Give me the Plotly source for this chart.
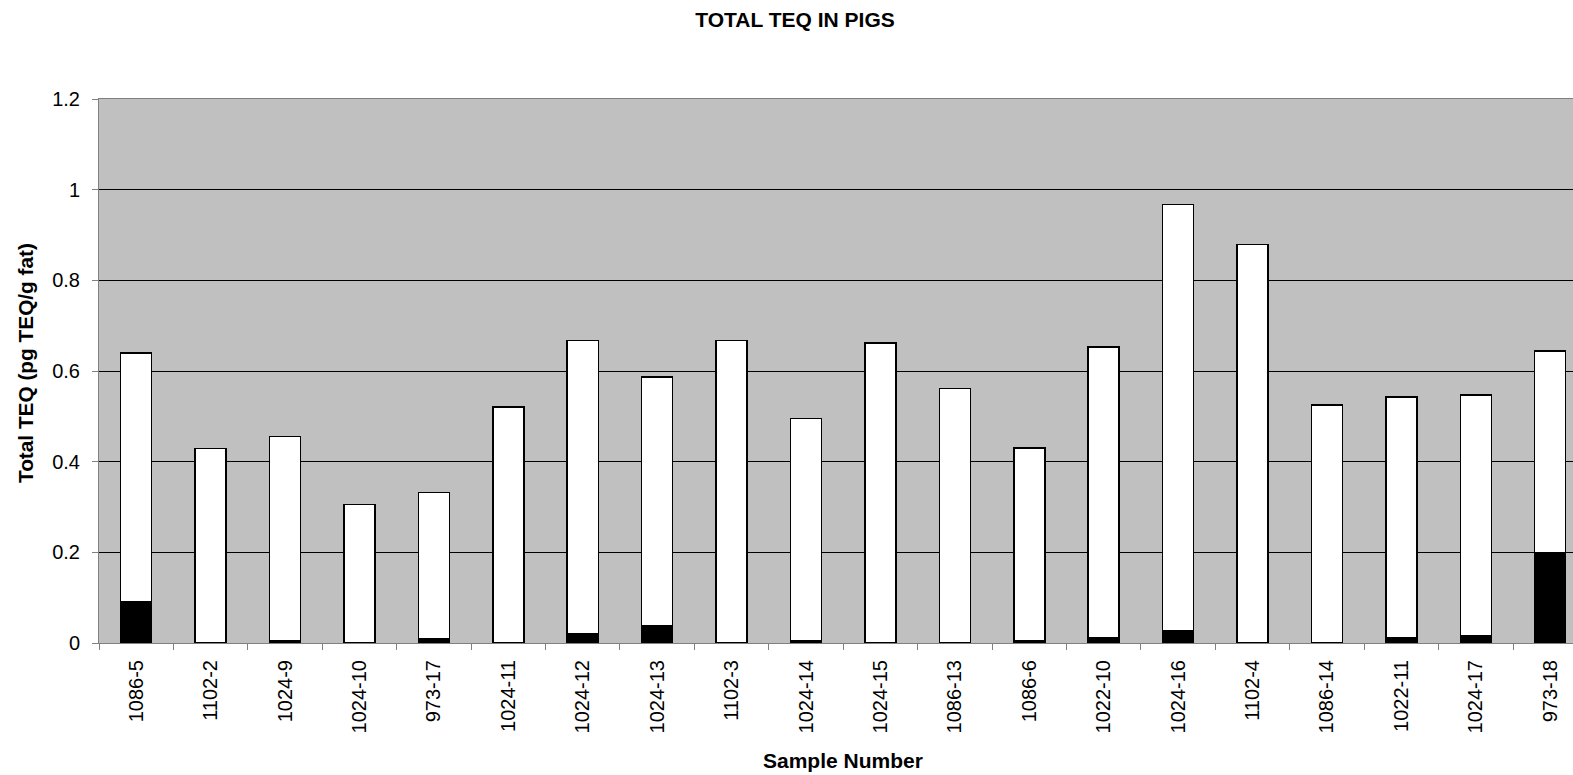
import plotly.graph_objects as go

samples = ["1086-5", "1102-2", "1024-9", "1024-10", "973-17", "1024-11", "1024-12",
           "1024-13", "1102-3", "1024-14", "1024-15", "1086-13", "1086-6", "1022-10",
           "1024-16", "1102-4", "1086-14", "1022-11", "1024-17", "973-18"]

# lower (black) segment
black_part = [0.090, 0.000, 0.004, 0.000, 0.010, 0.000, 0.020, 0.037, 0.000, 0.005,
              0.000, 0.000, 0.005, 0.011, 0.028, 0.000, 0.000, 0.011, 0.015, 0.200]
# upper (white) segment
white_part = [0.550, 0.429, 0.451, 0.305, 0.322, 0.521, 0.647, 0.550, 0.667, 0.490,
              0.662, 0.561, 0.425, 0.642, 0.939, 0.879, 0.525, 0.532, 0.532, 0.444]

y_ticks = [0, 0.2, 0.4, 0.6, 0.8, 1.0, 1.2]
y_tick_labels = ["0", "0.2", "0.4", "0.6", "0.8", "1", "1.2"]

FONT = "Liberation Sans, Arial, sans-serif"
W, H = 1573, 775
ML, MT, MB = 99, 99, 132

fig = go.Figure()
fig.add_trace(go.Bar(x=samples, y=black_part, width=0.417,
                     marker=dict(color="black", line=dict(color="black", width=1.5)),
                     hoverinfo="x+y"))
fig.add_trace(go.Bar(x=samples, y=white_part, width=0.417,
                     marker=dict(color="white", line=dict(color="black", width=1.5)),
                     hoverinfo="x+y"))

fig.update_layout(
    width=W, height=H,
    barmode="stack",
    showlegend=False,
    paper_bgcolor="white",
    plot_bgcolor="#C0C0C0",
    margin=dict(l=ML, r=0, t=MT, b=MB, pad=0),
    font=dict(family=FONT, color="black"),
    title=dict(text="<b>TOTAL TEQ IN PIGS</b>", x=795 / W, xanchor="center",
               y=1 - 20 / H, yanchor="middle", xref="container", yref="container",
               font=dict(size=21, family=FONT, color="black")),
    xaxis=dict(
        type="category",
        range=[-0.5, 19.306],
        showline=True, linecolor="#808080", linewidth=1, mirror=True,
        ticks="outside", tickson="boundaries", ticklen=6, tickcolor="#808080",
        tickangle=-90, tickfont=dict(size=20, family=FONT, color="black"),
        ticklabelstandoff=8,
        showgrid=False,
    ),
    yaxis=dict(
        range=[0, 1.2],
        tickmode="array", tickvals=y_ticks, ticktext=y_tick_labels,
        showline=True, linecolor="#808080", linewidth=1, mirror=True,
        ticks="outside", ticklen=6, tickcolor="#808080",
        tickfont=dict(size=20, family=FONT, color="black"),
        ticklabelstandoff=8,
        showgrid=True, gridcolor="black", gridwidth=1,
        zeroline=False,
    ),
    annotations=[
        dict(text="<b>Sample Number</b>", xref="x", x=9.5, yref="paper", y=0,
             yshift=-117, xanchor="center", yanchor="middle", showarrow=False,
             font=dict(size=21, family=FONT, color="black")),
        dict(text="<b>Total TEQ (pg TEQ/g fat)</b>", xref="paper", x=0, xshift=-74,
             yref="paper", y=0.5, yshift=8, textangle=-90, xanchor="center",
             yanchor="middle", showarrow=False,
             font=dict(size=20.8, family=FONT, color="black")),
    ],
)

fig.write_html("out.html",
               config={"displayModeBar": False},
               post_script="document.body.style.margin='0px';document.body.style.overflow='hidden';")
